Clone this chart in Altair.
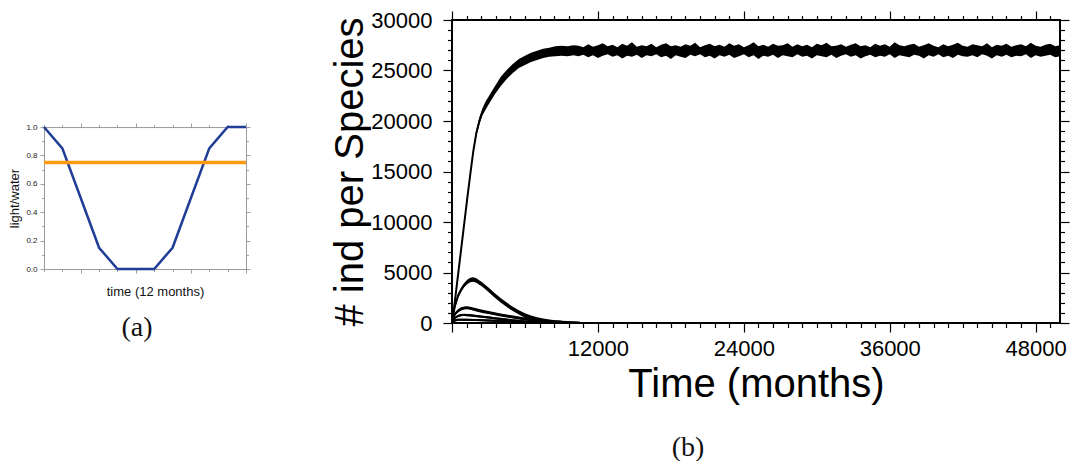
import altair as alt
import pandas as pd

# ---------------- Panel (a) data ----------------
months = [0, 1, 2, 3, 4, 5, 6, 7, 8, 9, 10, 11]
light = [1.0, 0.85, 0.5, 0.15, 0.0, 0.0, 0.0, 0.15, 0.5, 0.85, 1.0, 1.0]
water_level = [0.75]

# ---------------- Panel (b) data ----------------
# dominant species: lower / upper edge of the noisy band
a_t_early = [0, 100, 250, 500, 750, 1000, 1250, 1500, 1750, 2000, 2250, 2500, 2750, 3000,
             3500, 4000, 4500, 5000, 5500, 6000, 6500, 7000, 7500, 8000, 8500, 9000, 9500, 10000]
a_lo_early = [0, 700, 2100, 4600, 7100, 9600, 12100, 14450, 16750, 18500, 19650, 20550, 21100, 21600,
              22600, 23450, 24150, 24750, 25250, 25550, 25850, 26050, 26250, 26350, 26400, 26450, 26400, 26500]
a_hi_early = [600, 1100, 2500, 5000, 7500, 10000, 12500, 14950, 17250, 19100, 20350, 21250, 21900, 22400,
              23400, 24350, 25050, 25650, 26150, 26450, 26750, 26950, 27150, 27250, 27400, 27450, 27400, 27500]
a_t_late = list(range(10400, 50001, 400))
a_hi_late = [27450, 27300, 27600, 27350, 27500, 27700, 27400, 27550, 27300, 27650,
             27450, 27800, 27350, 27500, 27400, 27650, 27300, 27550, 27700, 27400,
             27500, 27350, 27600, 27450, 27750, 27300, 27500, 27650, 27400, 27550,
             27350, 27700, 27450, 27600, 27300, 27500, 27800, 27400, 27550, 27350,
             27650, 27450, 27500, 27700, 27350, 27600, 27400, 27550, 27300, 27650,
             27500, 27750, 27400, 27450, 27600, 27350, 27550, 27700, 27400, 27500,
             27300, 27650, 27450, 27600, 27350, 27800, 27500, 27400, 27550, 27650,
             27350, 27500, 27700, 27450, 27300, 27600, 27400, 27550, 27750, 27450,
             27350, 27600, 27500, 27400, 27700, 27300, 27550, 27450, 27650, 27350,
             27500, 27600, 27400, 27750, 27450, 27350, 27550, 27650, 27400, 27500]
a_lo_late = [26400, 26550, 26300, 26500, 26250, 26450, 26600, 26350, 26500, 26200,
             26450, 26350, 26550, 26250, 26500, 26400, 26600, 26300, 26450, 26150,
             26500, 26350, 26250, 26550, 26400, 26600, 26300, 26450, 26200, 26500,
             26350, 26550, 26250, 26400, 26600, 26300, 26500, 26150, 26450, 26350,
             26550, 26250, 26500, 26400, 26300, 26600, 26350, 26450, 26200, 26500,
             26400, 26300, 26550, 26250, 26450, 26600, 26350, 26500, 26200, 26400,
             26550, 26300, 26450, 26350, 26600, 26250, 26500, 26400, 26300, 26550,
             26450, 26200, 26500, 26350, 26600, 26300, 26450, 26250, 26550, 26400,
             26350, 26500, 26300, 26600, 26450, 26200, 26500, 26350, 26550, 26300,
             26450, 26400, 26600, 26250, 26500, 26350, 26450, 26550, 26300, 26400]

# minor species: centre of band + band half-width
b_t = [0, 100, 250, 500, 750, 1000, 1250, 1500, 1750, 2000, 2500, 3000, 3500, 4000, 4500,
       5000, 5500, 6000, 6500, 7000, 7500, 8000, 8500, 9000]
b_mid = [300, 900, 1700, 2700, 3300, 3750, 4050, 4250, 4300, 4200, 3800, 3300, 2750, 2250, 1800,
         1400, 1050, 750, 520, 350, 220, 120, 60, 20]
b_noise = 220

c_t = [0, 100, 250, 500, 750, 1000, 1250, 1500, 2000, 2500, 3000, 3500, 4000, 4500, 5000,
       5500, 6000, 6500, 7000, 7500, 8000, 8500, 9000, 9500, 10000, 10500]
c_mid = [200, 500, 900, 1200, 1400, 1480, 1500, 1450, 1300, 1150, 1030, 920, 800, 690, 590,
         490, 400, 320, 250, 190, 140, 100, 70, 45, 25, 10]
c_noise = 150

d_t = [0, 250, 500, 750, 1000, 1500, 2000, 2500, 3000, 3500, 4000, 4500, 5000, 5500, 6000, 6500, 7000]
d_mid = [150, 500, 700, 780, 800, 760, 690, 620, 550, 470, 400, 330, 260, 200, 140, 80, 30]
d_noise = 110

e_t = [0, 250, 500, 1000, 2000, 3000, 4000, 5000, 6000, 7000, 8000]
e_mid = [100, 250, 320, 330, 300, 250, 200, 150, 100, 50, 10]
e_noise = 100

rows = []
for t, lo, hi in zip(a_t_early + a_t_late, a_lo_early + a_lo_late, a_hi_early + a_hi_late):
    rows.append({"series": "A", "t": t, "lo": lo, "hi": hi, "mid": (lo + hi) / 2})
for name, ts, mids, w in [("B", b_t, b_mid, b_noise), ("C", c_t, c_mid, c_noise),
                          ("D", d_t, d_mid, d_noise), ("E", e_t, e_mid, e_noise)]:
    for t, m in zip(ts, mids):
        rows.append({"series": name, "t": t, "lo": max(0, m - w), "hi": m + w, "mid": m})
dfb = pd.DataFrame(rows)

dfa = pd.DataFrame({"month": months, "light": light})
dfw = pd.DataFrame({"level": water_level})

SANS = "Liberation Sans"

# ---------------- Panel (a) ----------------
xa_vals = months
ya_vals = [0.0, 0.1, 0.2, 0.3, 0.4, 0.5, 0.6, 0.7, 0.8, 0.9, 1.0]
xa_tick = {"condition": {"test": "datum.value % 3 === 2", "value": 4}, "value": 2.5}
ya_tick = {"condition": {"test": "round(datum.value * 10) % 2 === 0", "value": 4}, "value": 2.5}
ya_lab = "round(datum.value * 10) % 2 === 0 ? format(datum.value, '.1f') : ''"

xa_scale = alt.Scale(domain=[0, 11], nice=False, zero=False)
ya_scale = alt.Scale(domain=[0, 1], nice=False)

common_a = dict(domain=False, grid=False, tickColor="#888888", tickWidth=0.8,
                labelColor="#222222", titleColor="#111111", labelFont=SANS, titleFont=SANS,
                titleFontWeight="normal", labelOverlap=False)

line_a = alt.Chart(dfa).mark_line(color="#1f3d97", strokeWidth=2.5).encode(
    x=alt.X("month:Q", scale=xa_scale,
            axis=alt.Axis(orient="bottom", values=xa_vals, labels=False, tickSize=xa_tick,
                          title="time (12 months)", titleFontSize=13, titlePadding=12,
                          titleX=111, **common_a)),
    y=alt.Y("light:Q", scale=ya_scale,
            axis=alt.Axis(orient="left", values=ya_vals, labelExpr=ya_lab, tickSize=ya_tick,
                          labelFontSize=8, labelPadding=3, title="light/water", titleFontSize=13,
                          titlePadding=4, **common_a)),
)
rule_a = alt.Chart(dfw).mark_rule(color="#ff9a0e", strokeWidth=3.5).encode(
    x=alt.value(0), x2=alt.value(202),
    y=alt.Y("level:Q", scale=ya_scale,
            axis=alt.Axis(orient="right", values=ya_vals, labels=False, tickSize=ya_tick,
                          title=None, **common_a)),
)
top_a = alt.Chart(dfa).mark_line(opacity=0).encode(
    x=alt.X("month:Q", scale=xa_scale,
            axis=alt.Axis(orient="top", values=xa_vals, labels=False, tickSize=xa_tick,
                          title=None, **common_a)),
    y=alt.Y("light:Q", scale=ya_scale, axis=None),
)

panel_a = alt.layer(line_a, top_a, rule_a).resolve_axis(x="independent", y="independent").properties(
    width=202, height=142,
    view=alt.ViewBackground(stroke="#9a9a9a", strokeWidth=1),
    title=alt.TitleParams("(a)", orient="bottom", font="Liberation Serif", fontSize=28,
                          fontWeight="normal", color="#111111", offset=16, anchor="middle", dx=-8,
                          subtitle=" ", subtitleFontSize=12, subtitlePadding=2),
)

# ---------------- Panel (b) ----------------
xb_vals = list(range(0, 50001, 1200))
yb_vals = list(range(0, 30001, 1000))
xb_tick = {"condition": {"test": "datum.value % 12000 === 0", "value": 9}, "value": 4.5}
yb_tick = {"condition": {"test": "datum.value % 5000 === 0", "value": 9}, "value": 4.5}
xb_lab = "datum.value % 12000 === 0 && datum.value > 0 ? format(datum.value, 'd') : ''"
yb_lab = "datum.value % 5000 === 0 ? format(datum.value, 'd') : ''"

xb_scale = alt.Scale(domain=[0, 50000], nice=False, zero=False)
yb_scale = alt.Scale(domain=[0, 30000], nice=False)

common_b = dict(domain=False, grid=False, tickColor="black", tickWidth=1.2,
                labelColor="black", titleColor="black", labelFont=SANS, titleFont=SANS,
                titleFontWeight="normal", labelOverlap=False)

band_b = alt.Chart(dfb).mark_area(color="black", opacity=1).encode(
    x=alt.X("t:Q", scale=xb_scale,
            axis=alt.Axis(orient="bottom", values=xb_vals, labelExpr=xb_lab, tickSize=xb_tick,
                          labelFontSize=22, labelPadding=6, title="Time (months)",
                          titleFontSize=40, titlePadding=5, **common_b)),
    y=alt.Y("lo:Q", scale=yb_scale,
            axis=alt.Axis(orient="left", values=yb_vals, labelExpr=yb_lab, tickSize=yb_tick,
                          labelFontSize=22, labelPadding=11, title="# ind per Species",
                          titleFontSize=40, titlePadding=0, **common_b)),
    y2="hi:Q",
    detail="series:N",
)
line_b = alt.Chart(dfb).mark_line(color="black", strokeWidth=2).encode(
    x=alt.X("t:Q", scale=xb_scale,
            axis=alt.Axis(orient="top", values=xb_vals, labels=False, tickSize=xb_tick,
                          title=None, **common_b)),
    y=alt.Y("mid:Q", scale=yb_scale,
            axis=alt.Axis(orient="right", values=yb_vals, labels=False, tickSize=yb_tick,
                          title=None, **common_b)),
    detail="series:N",
)

panel_b = alt.layer(band_b, line_b).resolve_axis(x="independent", y="independent").properties(
    width=608, height=303,
    view=alt.ViewBackground(stroke="black", strokeWidth=2),
    title=alt.TitleParams("(b)", orient="bottom", font="Liberation Serif", fontSize=28,
                          fontWeight="normal", color="#111111", offset=30, anchor="middle", dx=-68),
)

chart = alt.hconcat(panel_a, panel_b, spacing=77, center=True).properties(
    padding={"left": 8, "top": 8, "right": 5, "bottom": 0},
    background="white",
).configure_view(strokeWidth=0)

chart.save("out.html", embed_options={"renderer": "svg", "actions": False})
